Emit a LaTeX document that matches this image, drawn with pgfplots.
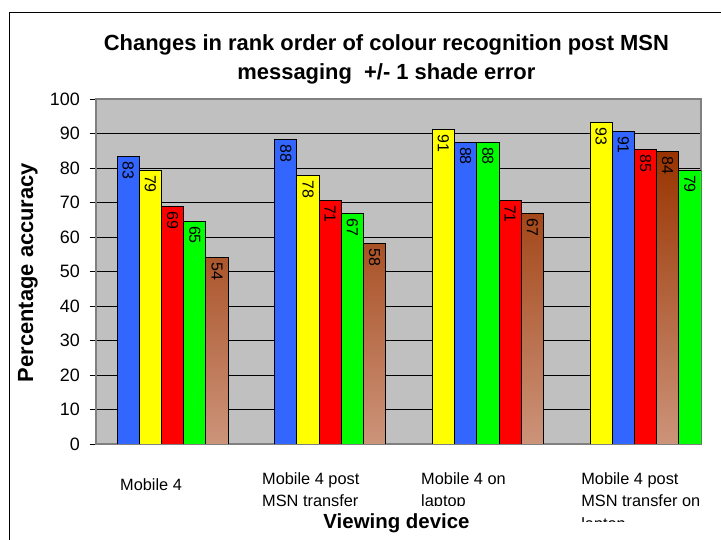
\documentclass[border=0pt]{standalone}
\usepackage{fontspec}
\setmainfont{Liberation Sans}
\usepackage{pgfplots}
\pgfplotsset{compat=1.18}

\definecolor{xlblue}{RGB}{51,102,255}
\definecolor{xlyellow}{RGB}{255,255,0}
\definecolor{xlred}{RGB}{255,0,0}
\definecolor{xlgreen}{RGB}{0,255,0}
\definecolor{xlbrownA}{RGB}{153,51,0}
\definecolor{xlbrownB}{RGB}{204,148,122}
\definecolor{xlgray}{RGB}{192,192,192}

\begin{document}
\begin{tikzpicture}
\useasboundingbox (0,0) rectangle (721bp,540bp);
\clip (0,0) rectangle (721bp,540bp);
% chart frame (cropped on the right and bottom)
\draw[line width=1.3bp] (9.3bp,-5bp) |- (730bp,527.3bp);
\begin{axis}[
    at={(96bp,96bp)}, anchor=south west,
    scale only axis, width=605bp, height=345bp,
    xmin=0, xmax=27.25, ymin=0, ymax=100,
    ytick={0,10,...,100},
    xtick={1.081,7.477,14.64,21.85},
    xticklabels={{\rule{0pt}{18bp}Mobile 4},{Mobile 4 post\\MSN transfer},{Mobile 4 on\\laptop},{Mobile 4 post\\MSN transfer on\\laptop}},
    ybar, bar width=1, bar shift=0pt,
    axis background/.style={fill=xlgray},
    ymajorgrids, major grid style={black, line width=0.8bp},
    axis line style={draw=black!50, line width=1.2bp},
    tick align=outside, ytick pos=left, major tick length=6bp,
    ytick style={black, line width=0.8bp},
    xtick style={draw=none},
    /pgf/number format/assume math mode=true,
    yticklabel style={font=\fontsize{18}{20}\selectfont, inner sep=0pt, xshift=-10bp},
    xticklabel style={font=\fontsize{16.4}{22.7}\selectfont, align=left, anchor=north west, inner sep=0pt, yshift=-22bp},
    title={Changes in rank order of colour recognition post MSN\\messaging\ \ +/- 1 shade error},
    title style={font=\bfseries\fontsize{22}{29.3}\selectfont, align=center, inner sep=0pt, anchor=south, at={(axis description cs:0.480,1)}, yshift=8.4bp},
    ylabel={Percentage accuracy},
    ylabel style={font=\bfseries\fontsize{22}{24}\selectfont, inner sep=0pt, anchor=center, at={(axis description cs:0,0.497)}, yshift=68bp},
    xlabel={Viewing device},
    xlabel style={font=\bfseries\fontsize{20.5}{24}\selectfont, inner sep=0pt, anchor=base, at={(axis description cs:0.4967,0)}, yshift=-84bp},
    nodes near coords, point meta=explicit symbolic,
    every node near coord/.append style={rotate=-90, anchor=west, inner xsep=4.5bp, inner ysep=0pt, font=\fontsize{16}{18}\selectfont, text=black},
]
\addplot[fill=xlblue, draw=black, line width=0.9bp, bar shift=0pt] coordinates {
(1.45,83.4) [83]
(8.55,88.3) [88]
(16.65,87.5) [88]
(23.75,90.7) [91]
};
\addplot[fill=xlyellow, draw=black, line width=0.9bp, bar shift=0pt] coordinates {
(2.45,79.4) [79]
(9.55,77.7) [78]
(15.65,91.2) [91]
(22.75,93.2) [93]
};
\addplot[fill=xlred, draw=black, line width=0.9bp, bar shift=0pt] coordinates {
(3.45,68.8) [69]
(10.55,70.7) [71]
(18.65,70.7) [71]
(24.75,85.4) [85]
};
\addplot[fill=xlgreen, draw=black, line width=0.9bp, bar shift=0pt] coordinates {
(4.45,64.6) [65]
(11.55,66.7) [67]
(17.65,87.5) [88]
(26.75,79.4) [79]
};
\addplot[top color=xlbrownA, bottom color=xlbrownB, draw=black, line width=0.9bp, bar shift=0pt] coordinates {
(5.45,54.1) [54]
(12.55,58.2) [58]
(19.65,66.7) [67]
(25.75,84.7) [84]
};
\end{axis}
% the category text box is cut off in the original
\fill[white] (418bp,29bp) rectangle (470bp,34bp);
\fill[white] (575bp,0bp) rectangle (710bp,18bp);
\end{tikzpicture}
\end{document}
